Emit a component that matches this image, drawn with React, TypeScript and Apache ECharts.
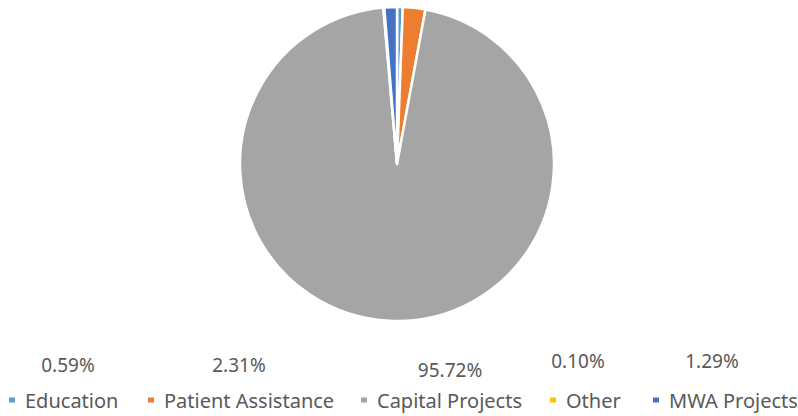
import React, { useEffect, useRef } from "react";
import * as echarts from "echarts";

const categories = ["Education", "Patient Assistance", "Capital Projects", "Other", "MWA Projects"];
const values = [0.59, 2.31, 95.72, 0.10, 1.29];
const colors = ["#5B9BD5", "#ED7D31", "#A5A5A5", "#FFC000", "#4472C4"];
const labelX = [68, 239, 450, 578, 712];
const labelY = [365, 365, 370, 361, 361];
const legendX = [7, 146, 359, 548, 651];

export default function App() {
  const ref = useRef<HTMLDivElement>(null);
  useEffect(() => {
    const chart = echarts.init(ref.current!, null, { renderer: "svg" });
    chart.setOption({
      animation: false,
      backgroundColor: "#ffffff",
      color: colors,
      legend: categories.map((c, i) => ({
        top: 390,
        left: legendX[i],
        padding: 0,
        itemWidth: 8,
        itemHeight: 7,
        icon: "rect",
        textStyle: { fontFamily: "Noto Sans", fontSize: 20, color: "#595959", padding: [0, 0, 0, 4] },
        data: [c],
      })),
      graphic: values.map((v, i) => ({
        type: "text",
        x: labelX[i],
        y: labelY[i],
        style: {
          text: v.toFixed(2) + "%",
          fontFamily: "Noto Sans",
          fontSize: 19,
          fill: "#595959",
          align: "center",
          verticalAlign: "middle",
        },
      })),
      series: [
        {
          type: "pie",
          center: [397, 164],
          radius: 157,
          startAngle: 90,
          clockwise: true,
          label: { show: false },
          labelLine: { show: false },
          itemStyle: { borderColor: "#ffffff", borderWidth: 2.5 },
          emphasis: { disabled: true },
          data: categories.map((c, i) => ({ name: c, value: values[i] })),
        },
      ],
    });
    return () => chart.dispose();
  }, []);
  return <div ref={ref} style={{ position: "absolute", left: 0, top: 0, width: 798, height: 416 }} />;
}
